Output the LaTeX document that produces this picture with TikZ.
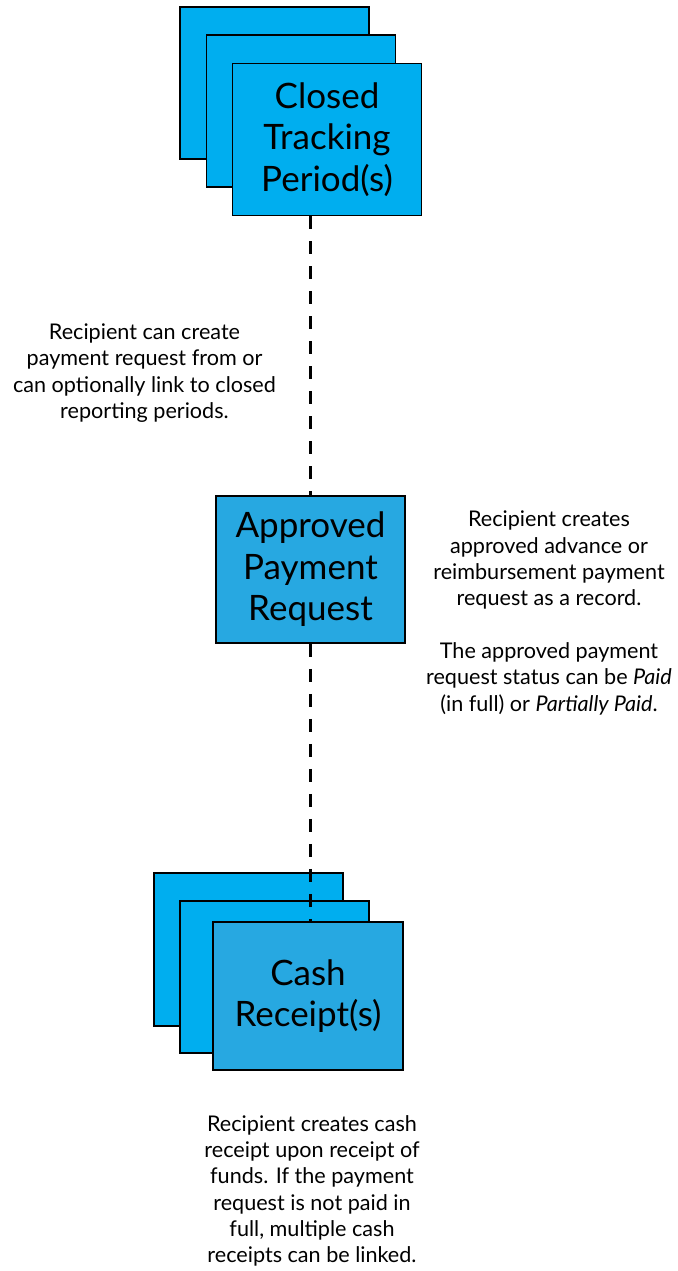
\documentclass[tikz,border=0pt]{standalone}
\usepackage{fontspec}
\setmainfont{Lato}
\usetikzlibrary{positioning}

\definecolor{cyanback}{HTML}{00AEEF}
\definecolor{cyanfront}{HTML}{27A8E1}

\begin{document}
\begin{tikzpicture}[x=1pt, y=-1pt]

	\tikzstyle{card}=[draw, line width=1.6pt, minimum width=189pt, minimum height=152pt, inner sep=0pt, align=center, font=\fontsize{35}{41.5}\selectfont]
	\tikzstyle{note}=[align=center, font=\fontsize{21.6}{26.3}\selectfont]
	\tikzstyle{link}=[line width=2.2pt, dash pattern=on 13pt off 12pt]

	\useasboundingbox (0,0) rectangle (677,1271);

	% closed tracking periods
	\node[card, fill=cyanback] (ctp1) at (274.5,83) {};
	\node[card, fill=cyanback] (ctp2) at (301,111) {};
	\node[card, fill=cyanback] (ctp) at (327,139.5) {Closed\\Tracking\\Period(s)};

	% approved payment request
	\node[card, fill=cyanfront, minimum height=147pt] (apr) at (310.5,569.5) {Approved\\Payment\\Request};

	% cash receipts
	\node[card, fill=cyanback, minimum height=153pt] (cash1) at (248.5,949.5) {};
	\node[card, fill=cyanback] (cash2) at (274.5,977) {};
	\node[card, fill=cyanfront, minimum width=190pt, minimum height=148pt] (cash) at (308,996) {Cash\\Receipt(s)};

	\draw[link] (apr.north |- ctp.south) -- (apr.north);
	\draw[link] (apr.south) -- (apr.south |- cash.north);

	% notes
	\node[note] (ctpnote) at (144.5,373) {Recipient can create\\payment request from or\\can optionally link to closed\\reporting periods.};
	\node[note] (aprnote) at (549,613) {Recipient creates\\approved advance or\\reimbursement payment\\request as a record.\\[26.3pt]The approved payment\\request status can be \textit{Paid}\\(in full) or \textit{Partially Paid}.};
	\node[note] (cashnote) at (312,1191) {Recipient creates cash\\receipt upon receipt of\\funds. If the payment\\request is not paid in\\full, multiple cash\\receipts can be linked.};

\end{tikzpicture}
\end{document}
